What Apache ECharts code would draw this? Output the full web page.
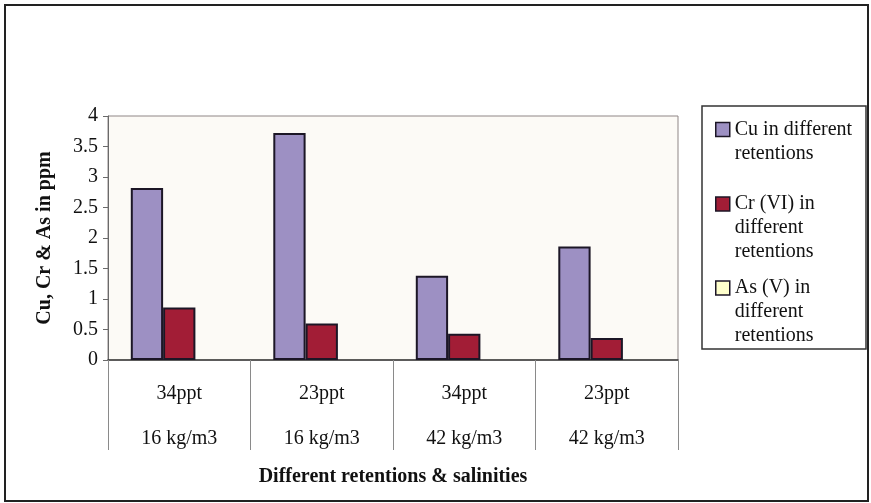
<!DOCTYPE html>
<html>
<head>
<meta charset="utf-8">
<script src="https://cdn.jsdelivr.net/npm/echarts@6/dist/echarts.min.js"></script>
<style>
  html, body { margin: 0; padding: 0; background: #ffffff; }
  #chart { width: 871px; height: 503px; }
</style>
</head>
<body>
<div id="chart"></div>
<script>
// Category labels: salinity on the first line, retention on the second
const salinities = ['34ppt', '23ppt', '34ppt', '23ppt'];
const retentions = ['16 kg/m3', '16 kg/m3', '42 kg/m3', '42 kg/m3'];

// Leached metal concentrations (ppm)
const cuValues = [2.82, 3.72, 1.38, 1.86];
const crValues = [0.86, 0.60, 0.43, 0.36];
const asValues = [0, 0, 0, 0];

// Y axis ticks
const yMin = 0;
const yMax = 4;
const yStep = 0.5;

const seriesNames = [
  'Cu in different\nretentions',
  'Cr (VI) in\ndifferent\nretentions',
  'As (V) in\ndifferent\nretentions'
];

const categories = salinities.map((s, i) => s + '\n' + retentions[i]);

const FONT = '"Liberation Serif", "Times New Roman", serif';
const BAR_BORDER = '#1c1626';
const LINE_H = 24;

// One legend block per series; blank leading lines keep the first text line
// level with the swatch (legend text is centred on its icon).
function legendEntry(name, iconCenterY) {
  const lines = name.split('\n').length;
  const textHalf = ((2 * lines - 1) * LINE_H) / 2;
  const iconH = 14;
  const boxTop = iconCenterY - Math.max(textHalf, iconH / 2);
  return {
    data: [name],
    orient: 'vertical',
    left: 715,
    top: boxTop,
    padding: 0,
    itemWidth: 14,
    itemHeight: iconH,
    icon: 'rect',
    selectedMode: false,
    formatter: (n) => '\n'.repeat(lines - 1) + n,
    itemStyle: { borderColor: BAR_BORDER, borderWidth: 1.5 },
    textStyle: {
      fontFamily: FONT,
      fontSize: 20,
      color: '#111111',
      lineHeight: LINE_H
    }
  };
}

const chart = echarts.init(document.getElementById('chart'), null, { renderer: 'canvas' });

chart.setOption({
  animation: false,
  backgroundColor: '#ffffff',
  graphic: [
    {
      type: 'rect',
      z: -10,
      shape: { x: 5, y: 5, width: 863, height: 496 },
      style: { fill: '#ffffff', stroke: '#222222', lineWidth: 2 }
    },
    {
      type: 'rect',
      z: -5,
      shape: { x: 702, y: 106, width: 164, height: 243 },
      style: { fill: '#ffffff', stroke: '#333333', lineWidth: 1.5 }
    }
  ],
  legend: [
    legendEntry(seriesNames[0], 129.5),
    legendEntry(seriesNames[1], 204),
    legendEntry(seriesNames[2], 288)
  ],
  grid: {
    left: 108,
    right: 193,
    top: 116,
    bottom: 143,
    show: true,
    backgroundColor: '#fcfaf6',
    borderColor: '#8f8686',
    borderWidth: 1
  },
  xAxis: {
    type: 'category',
    data: categories,
    boundaryGap: true,
    name: 'Different retentions & salinities',
    nameLocation: 'middle',
    nameGap: 107,
    nameTextStyle: {
      fontFamily: FONT,
      fontSize: 20,
      fontWeight: 'bold',
      color: '#111111'
    },
    axisLine: { lineStyle: { color: '#3a3a3a', width: 1.5 } },
    axisTick: {
      show: true,
      interval: 0,
      alignWithLabel: false,
      length: 90,
      lineStyle: { color: '#8a8a8a', width: 1 }
    },
    axisLabel: {
      interval: 0,
      margin: 11,
      fontFamily: FONT,
      fontSize: 20,
      lineHeight: 45,
      color: '#111111'
    }
  },
  yAxis: {
    type: 'value',
    min: yMin,
    max: yMax,
    interval: yStep,
    name: 'Cu, Cr & As in ppm',
    nameLocation: 'middle',
    nameGap: 53,
    nameTextStyle: {
      fontFamily: FONT,
      fontSize: 20,
      fontWeight: 'bold',
      color: '#111111'
    },
    splitLine: { show: false },
    axisLine: { show: true, lineStyle: { color: '#6a6a6a', width: 1 } },
    axisTick: { show: true, length: 5, lineStyle: { color: '#6a6a6a' } },
    axisLabel: {
      margin: 10,
      fontFamily: FONT,
      fontSize: 20,
      color: '#111111'
    }
  },
  series: [
    {
      name: seriesNames[0],
      type: 'bar',
      data: cuValues,
      barGap: '0%',
      barCategoryGap: '32%',
      itemStyle: { color: '#9d90c3', borderColor: BAR_BORDER, borderWidth: 2 }
    },
    {
      name: seriesNames[1],
      type: 'bar',
      data: crValues,
      barGap: '0%',
      barCategoryGap: '32%',
      itemStyle: { color: '#a21d36', borderColor: BAR_BORDER, borderWidth: 2 }
    },
    {
      name: seriesNames[2],
      type: 'bar',
      data: asValues,
      barGap: '0%',
      barCategoryGap: '32%',
      itemStyle: { color: '#ffffcc', borderColor: BAR_BORDER, borderWidth: 0 }
    }
  ]
});
</script>
</body>
</html>
